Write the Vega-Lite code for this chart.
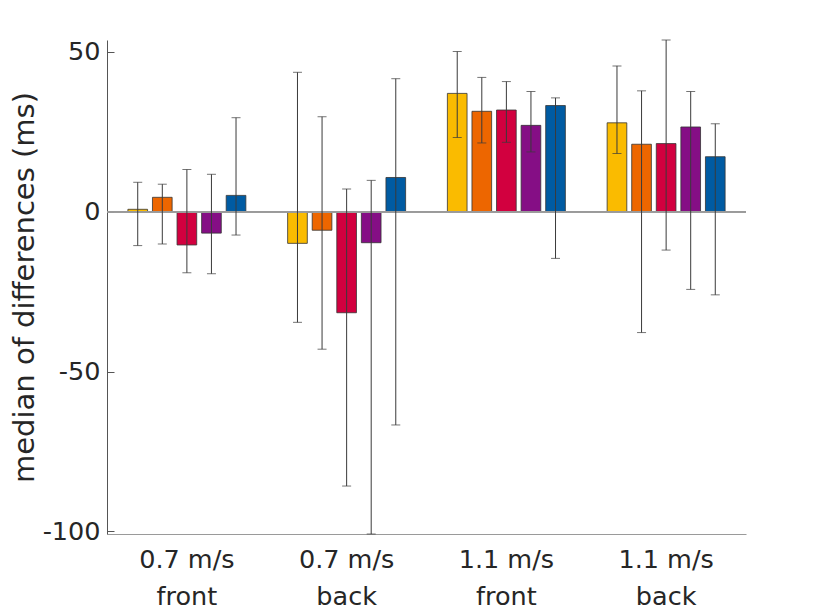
{
  "$schema": "https://vega.github.io/schema/vega-lite/v6.json",
  "autosize": "none",
  "width": 639,
  "height": 494,
  "padding": {"left": 107, "top": 40, "right": 67, "bottom": 79},
  "background": "white",
  "data": {
    "values": [
      {"group": "0.7 m/s|front", "cond": 1, "median": 0.75, "lo": -10.6, "hi": 9.2},
      {"group": "0.7 m/s|front", "cond": 2, "median": 4.5, "lo": -10.1, "hi": 8.6},
      {"group": "0.7 m/s|front", "cond": 3, "median": -10.4, "lo": -19.1, "hi": 13.2},
      {"group": "0.7 m/s|front", "cond": 4, "median": -6.7, "lo": -19.4, "hi": 11.7},
      {"group": "0.7 m/s|front", "cond": 5, "median": 5.1, "lo": -7.3, "hi": 29.4},
      {"group": "0.7 m/s|back", "cond": 1, "median": -9.9, "lo": -34.6, "hi": 43.6},
      {"group": "0.7 m/s|back", "cond": 2, "median": -5.8, "lo": -43.0, "hi": 29.7},
      {"group": "0.7 m/s|back", "cond": 3, "median": -31.6, "lo": -85.8, "hi": 7.1},
      {"group": "0.7 m/s|back", "cond": 4, "median": -9.7, "lo": -100.8, "hi": 9.8},
      {"group": "0.7 m/s|back", "cond": 5, "median": 10.7, "lo": -66.7, "hi": 41.6},
      {"group": "1.1 m/s|front", "cond": 1, "median": 37.0, "lo": 23.2, "hi": 50.1},
      {"group": "1.1 m/s|front", "cond": 2, "median": 31.4, "lo": 21.5, "hi": 42.0},
      {"group": "1.1 m/s|front", "cond": 3, "median": 31.8, "lo": 21.7, "hi": 40.7},
      {"group": "1.1 m/s|front", "cond": 4, "median": 27.0, "lo": 18.7, "hi": 37.6},
      {"group": "1.1 m/s|front", "cond": 5, "median": 33.2, "lo": -14.6, "hi": 35.6},
      {"group": "1.1 m/s|back", "cond": 1, "median": 27.8, "lo": 18.2, "hi": 45.6},
      {"group": "1.1 m/s|back", "cond": 2, "median": 21.1, "lo": -37.8, "hi": 37.8},
      {"group": "1.1 m/s|back", "cond": 3, "median": 21.3, "lo": -12.0, "hi": 53.7},
      {"group": "1.1 m/s|back", "cond": 4, "median": 26.5, "lo": -24.3, "hi": 37.6},
      {"group": "1.1 m/s|back", "cond": 5, "median": 17.2, "lo": -26.0, "hi": 27.5}
    ]
  },
  "encoding": {
    "x": {
      "field": "group",
      "type": "nominal",
      "sort": null,
      "scale": {"paddingInner": 0, "paddingOuter": 0},
      "axis": {
        "title": null,
        "labelExpr": "split(datum.label, '|')",
        "labelAngle": 0,
        "labelFontSize": 25.5,
        "labelLineHeight": 37,
        "labelPadding": 13,
        "ticks": false,
        "domainColor": "#9a9a9a",
        "domainWidth": 1.2
      }
    },
    "xOffset": {
      "field": "cond",
      "type": "ordinal",
      "scale": {"paddingInner": 0.2, "paddingOuter": 0.85}
    }
  },
  "layer": [
    {
      "mark": {"type": "bar", "stroke": "#333333", "strokeWidth": 0.8},
      "encoding": {
        "y": {
          "field": "median",
          "type": "quantitative",
          "scale": {"domain": [-100.8, 53.7], "nice": false, "zero": false},
          "axis": {
            "title": "median of differences (ms)",
            "titleFontSize": 29,
            "titleFontWeight": "normal",
            "titleColor": "#262626",
            "titlePadding": 3,
            "values": [-100, -50, 0, 50],
            "labelExpr": "datum.value + ''",
            "labelFontSize": 25.5,
            "labelPadding": 14,
            "tickSize": -7,
            "tickColor": "#555555",
            "domainColor": "#555555",
            "grid": false
          }
        },
        "y2": {"datum": 0},
        "color": {
          "field": "cond",
          "type": "ordinal",
          "legend": null,
          "scale": {
            "domain": [1, 2, 3, 4, 5],
            "range": ["#FABB00", "#ED6600", "#D2003F", "#850E85", "#005BA2"]
          }
        }
      }
    },
    {
      "mark": {"type": "rule", "color": "#9a9a9a", "strokeWidth": 1.2},
      "encoding": {"y": {"datum": 0}, "x": null, "xOffset": null}
    },
    {
      "mark": {"type": "rule", "color": "#3a3a3a", "strokeWidth": 1, "clip": true},
      "encoding": {
        "y": {"field": "lo", "type": "quantitative"},
        "y2": {"field": "hi"}
      }
    },
    {
      "mark": {"type": "tick", "color": "#3a3a3a", "size": 9, "thickness": 1},
      "encoding": {"y": {"field": "lo", "type": "quantitative"}}
    },
    {
      "mark": {"type": "tick", "color": "#3a3a3a", "size": 9, "thickness": 1},
      "encoding": {"y": {"field": "hi", "type": "quantitative"}}
    }
  ],
  "config": {
    "font": "DejaVu Sans",
    "view": {"stroke": null},
    "axis": {"labelColor": "#262626", "labelFont": "DejaVu Sans", "titleFont": "DejaVu Sans"}
  }
}
